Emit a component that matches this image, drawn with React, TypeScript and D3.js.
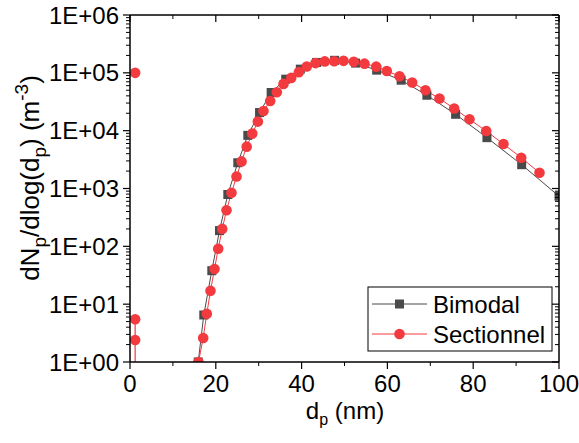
import React from "react";
import * as d3 from "d3";

const bimodalD = [15.9, 17.2, 19.07, 20.86, 22.8, 25.13, 27.46, 30.2, 32.9, 36.3, 39.7, 43.5, 47.7, 52.6, 57.5, 63.2, 69.2, 75.9, 83.2, 91.3, 100];
const bimodalN = [1.0, 6.5, 37.9, 187, 787, 2790, 8300, 20550, 45700, 77700, 115800, 151300, 164600, 147300, 111300, 74600, 41000, 19200, 7570, 2580, 736];

const sectD = [15.97, 17.06, 17.9, 18.76, 19.7, 20.56, 21.5, 22.5, 23.66, 24.83, 26.0, 27.2, 28.5, 29.8, 31.12, 32.68, 34.22, 35.78, 37.58, 39.35, 41.2, 43.24, 45.4, 47.6, 49.77, 52.17, 54.66, 57.39, 59.86, 62.82, 65.78, 68.88, 72.14, 75.57, 79.14, 83.03, 87.06, 91.19, 95.45];
const sectN = [1.0, 2.6, 6.8, 17, 40.5, 91, 200, 421, 843, 1615, 2940, 5290, 8890, 14350, 21900, 32650, 46200, 64400, 81800, 102700, 128900, 147200, 157500, 159000, 161300, 155000, 144200, 127900, 107700, 87500, 68100, 50100, 35950, 24100, 15730, 9860, 5870, 3410, 1870];

const sectSmallD = [1.2, 1.2, 1.2];
const sectSmallN = [5.5, 2.4, 0.4];
const sectIsoD = [1.2];
const sectIsoN = [100000];

const xTicks = [0, 20, 40, 60, 80, 100];
const xMinor = [10, 30, 50, 70, 90];
const yTicks = [1, 10, 100, 1000, 10000, 100000, 1000000];
const yTickLabels = ["1E+00", "1E+01", "1E+02", "1E+03", "1E+04", "1E+05", "1E+06"];

const legendLabels = ["Bimodal", "Sectionnel"];

const L = 130, R = 559, T = 15, B = 362;
const GRAY = "#4a4a4a";
const RED = "#f23a3f";
const FONT = "Liberation Sans, Arial, sans-serif";
const FS = 24;
const SUB = 16;
const TFS = 26;
const TSUB = 19;

export default function App() {
  const x = d3.scaleLinear().domain([0, 100]).range([L, R]);
  const y = d3.scaleLog().domain([1, 1e6]).range([B, T]);
  const yMinor: number[] = [];
  for (let e = 0; e < 6; e++) for (let k = 2; k <= 9; k++) yMinor.push(k * Math.pow(10, e));

  const line = d3.line<[number, number]>().x((p) => x(p[0])).y((p) => y(p[1]));
  const bPts = bimodalD.map((d, i) => [d, bimodalN[i]] as [number, number]);
  const sPts = sectD.map((d, i) => [d, sectN[i]] as [number, number]);
  const sSmall = sectSmallD.map((d, i) => [d, sectSmallN[i]] as [number, number]);
  const sIso = sectIsoD.map((d, i) => [d, sectIsoN[i]] as [number, number]);

  const sq = 9;
  const cr = 5.3;

  return (
    <svg width={579} height={443} style={{ position: "absolute", left: 0, top: 0, background: "#fff" }} fontFamily={FONT}>
      <defs>
        <clipPath id="plot">
          <rect x={L} y={T} width={R - L} height={B - T} />
        </clipPath>
      </defs>
      <g clipPath="url(#plot)">
        <path d={line(bPts) || ""} fill="none" stroke={GRAY} strokeWidth={1} />
        <path d={line(sPts) || ""} fill="none" stroke={RED} strokeWidth={1} />
        <path d={line(sSmall) || ""} fill="none" stroke={RED} strokeWidth={1.2} />
        {bPts.map((p, i) => (
          <rect key={"b" + i} x={x(p[0]) - sq / 2} y={y(p[1]) - sq / 2} width={sq} height={sq} fill={GRAY} />
        ))}
        {sPts.map((p, i) => (
          <circle key={"s" + i} cx={x(p[0])} cy={y(p[1])} r={cr} fill={RED} />
        ))}
        {sSmall.map((p, i) => (
          <circle key={"ss" + i} cx={x(p[0])} cy={y(p[1])} r={cr} fill={RED} />
        ))}
        {sIso.map((p, i) => (
          <circle key={"si" + i} cx={x(p[0])} cy={y(p[1])} r={cr} fill={RED} />
        ))}
      </g>

      {/* axes frame */}
      <line x1={L} x2={L} y1={T} y2={B} stroke="#000" strokeWidth={1.5} />
      <line x1={R} x2={R} y1={T} y2={B} stroke="#000" strokeWidth={1.5} />
      <line x1={L} x2={R} y1={T} y2={T} stroke="#000" strokeWidth={1.5} />
      <line x1={L} x2={R} y1={B} y2={B} stroke="#000" strokeWidth={1.5} />

      {/* x ticks */}
      {xTicks.map((t) => (
        <g key={"xt" + t}>
          <line x1={x(t)} x2={x(t)} y1={B} y2={B + 7} stroke="#000" strokeWidth={1.2} />
          <line x1={x(t)} x2={x(t)} y1={T} y2={T + 7} stroke="#000" strokeWidth={1.2} />
          <text x={x(t)} y={392} fontSize={FS} textAnchor="middle" fill="#000">{t}</text>
        </g>
      ))}
      {xMinor.map((t) => (
        <g key={"xm" + t}>
          <line x1={x(t)} x2={x(t)} y1={B} y2={B + 4} stroke="#000" strokeWidth={1} />
          <line x1={x(t)} x2={x(t)} y1={T} y2={T + 4} stroke="#000" strokeWidth={1} />
        </g>
      ))}

      {/* y ticks */}
      {yTicks.map((t, i) => (
        <g key={"yt" + t}>
          <line x1={L - 7} x2={L} y1={y(t)} y2={y(t)} stroke="#000" strokeWidth={1.2} />
          <line x1={R - 7} x2={R} y1={y(t)} y2={y(t)} stroke="#000" strokeWidth={1.2} />
          <text x={119} y={y(t) + 8.5} fontSize={FS} textAnchor="end" fill="#000">{yTickLabels[i]}</text>
        </g>
      ))}
      {yMinor.map((t) => (
        <g key={"ym" + t}>
          <line x1={L - 4} x2={L} y1={y(t)} y2={y(t)} stroke="#000" strokeWidth={1} />
          <line x1={R - 4} x2={R} y1={y(t)} y2={y(t)} stroke="#000" strokeWidth={1} />
        </g>
      ))}

      {/* axis titles */}
      <text x={345} y={419} fontSize={FS} textAnchor="middle" fill="#000">
        d<tspan fontSize={SUB} dy={6}>p</tspan><tspan dy={-6}> (nm)</tspan>
      </text>
      <text transform={`translate(39,178) rotate(-90)`} fontSize={TFS} textAnchor="middle" fill="#000">
        dN<tspan fontSize={TSUB} dy={7}>p</tspan><tspan dy={-7}>/dlog(d</tspan><tspan fontSize={TSUB} dy={7}>p</tspan><tspan dy={-7}>) (m</tspan><tspan fontSize={TSUB} dy={-11}>-3</tspan><tspan dy={11}>)</tspan>
      </text>

      {/* legend */}
      <rect x={368} y={287} width={184} height={64} fill="#fff" stroke="#000" strokeWidth={1} />
      {legendLabels.map((lab, i) => {
        const ly = 304 + i * 30;
        return (
          <g key={lab}>
            <line x1={372} x2={427} y1={ly} y2={ly} stroke={i === 0 ? GRAY : RED} strokeWidth={1} />
            {i === 0 ? (
              <rect x={399.5 - sq / 2} y={ly - sq / 2} width={sq} height={sq} fill={GRAY} />
            ) : (
              <circle cx={399.5} cy={ly} r={cr} fill={RED} />
            )}
            <text x={433} y={ly + 8.5} fontSize={FS} fill="#000">{lab}</text>
          </g>
        );
      })}
    </svg>
  );
}
